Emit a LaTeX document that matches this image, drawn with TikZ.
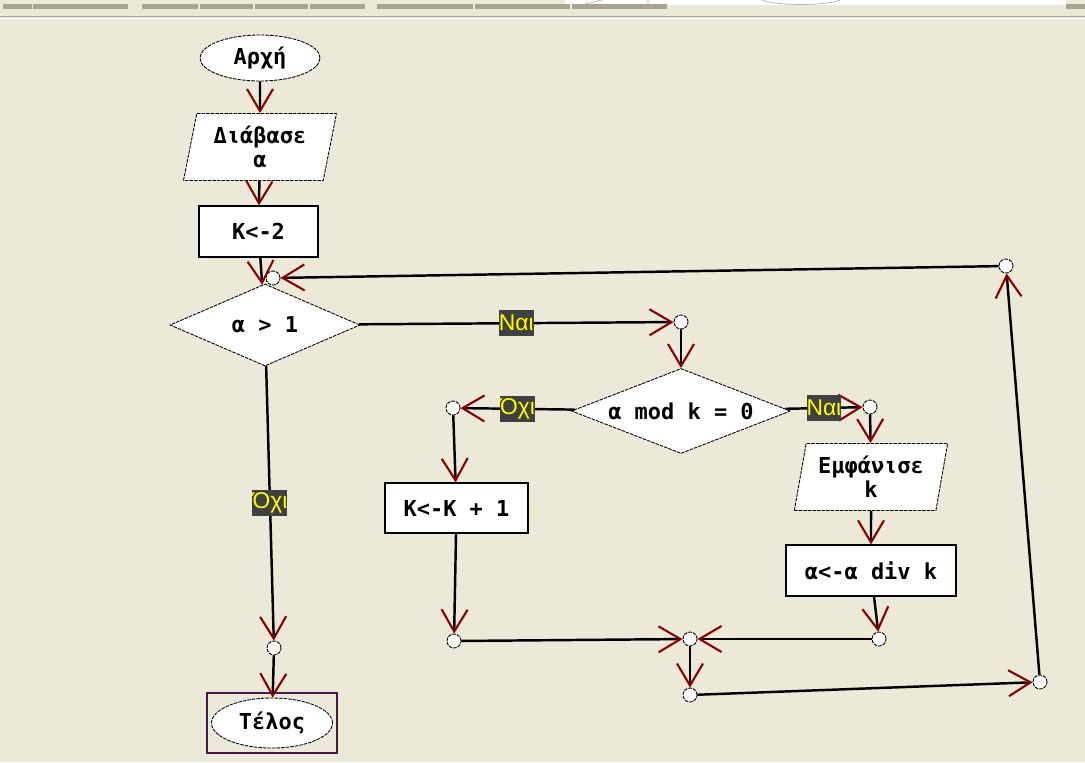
\documentclass[tikz,border=0pt]{standalone}
\usepackage{fontspec}
\setmonofont{DejaVu Sans Mono}
\newfontfamily\lblfont{Liberation Sans}
\usetikzlibrary{shapes.geometric,arrows.meta}
\definecolor{bgbeige}{HTML}{ECE9D8}
\definecolor{arrowred}{HTML}{8B0000}
\definecolor{lblgray}{HTML}{404040}
\definecolor{lblyellow}{HTML}{FFFF00}
\definecolor{selpurple}{HTML}{4A1848}
\definecolor{bargray}{HTML}{A7A494}
\definecolor{sepgray}{HTML}{ACA899}
\tikzset{
  shapeline/.style={draw=black, line width=0.5pt, dash pattern=on 2pt off 0.6pt, fill=white},
  txt/.style={font=\ttfamily\bfseries\fontsize{12.5}{13.7}\selectfont, align=center, inner sep=0pt},
  term/.style={ellipse, shapeline, txt},
  io/.style={trapezium, trapezium left angle=77, trapezium right angle=103, trapezium stretches=true,
    shapeline, txt, minimum width=3.08cm, minimum height=1.34cm},
  proc/.style={rectangle, draw=black, line width=0.7pt, fill=white, txt},
  cond/.style={diamond, shapeline, txt},
  jn/.style={circle, shapeline, minimum size=0.28cm, inner sep=0pt},
  lbl/.style={fill=lblgray, text=lblyellow, font=\lblfont\fontsize{13}{13}\selectfont,
    inner sep=0pt, minimum height=0.52cm},
  flow/.style={line width=1.4pt, -{Straight Barb[length=0.44cm, width=0.52cm, line width=1.2pt, color=arrowred]}},
}
\begin{document}
\begin{tikzpicture}[x=0.02cm, y=-0.02cm]
  \useasboundingbox (0,0) rectangle (1085,762);
  % window background and toolbar strip
  \fill[bgbeige] (0,0) rectangle (1085,762);
  \fill[white] (565,0) rectangle (1066,5);
  \draw[gray!60, thin] (581,5) -- (602,0) (648,0) -- (648,5)
    (762,0) .. controls (775,6) and (828,6) .. (840,0);
  \foreach \a/\b in {3/32,33/128,142/198,200/253,255/308,310/365,377/473,475/570,572/667,1066/1085}
    \fill[bargray] (\a,4) rectangle (\b,9);
  \draw[sepgray, line width=0.6pt] (0,16.5) -- (1085,16.5);
  \draw[white, line width=0.6pt] (0,18.5) -- (1085,18.5);

  % blocks
  \node[term, minimum width=2.4cm, minimum height=0.92cm] (start) at (260,58) {Αρχή};
  \node[io] (read) at (260,147) {Διάβασε\\α};
  \node[proc, minimum width=2.38cm, minimum height=1.02cm] (init) at (258.5,231.5) {K<-2};
  \node[cond, aspect=2.3, minimum width=3.8cm, minimum height=1.64cm] (test) at (265,325) {α > 1};
  \node[cond, aspect=2.6, minimum width=4.38cm, minimum height=1.7cm] (divides) at (681,411) {α mod k = 0};
  \node[proc, minimum width=2.86cm, minimum height=1cm] (inc) at (456.5,508) {K<-K + 1};
  \node[io] (show) at (871,477) {Εμφάνισε\\k};
  \node[proc, minimum width=3.4cm, minimum height=1.02cm] (reduce) at (871,570.5) {α<-α div k};
  \node[term, minimum width=2.42cm, minimum height=1cm] (stop) at (272,723) {Τέλος};
  \draw[selpurple, line width=1.2pt] (207,693) rectangle (337,753);

  % joints
  \foreach \n/\x/\y in {j1/273/278, c2/681/322, c3/453/408, c4/454/641, c5/870/407, c6/879/639,
                        c7/690/639, c8/690/695, c9/1040/682, c10/1006/266, c11/274/648}
    \node[jn] (\n) at (\x,\y) {};

  % connectors
  \foreach \a/\b in {start/read, read/init, init/test, c2/divides, c3/inc, inc/c4, c5/show,
                     show/reduce, reduce/c6, c4/c7, c6/c7, c7/c8, c8/c9, c9/c10, c10/j1, c11/stop}
    \draw[flow] (\a) -- (\b);
  \draw[flow] (test) -- node[lbl, minimum width=0.66cm] (yes1) {Ναι} (c2);
  \draw[flow] (test) -- node[lbl, minimum width=0.7cm] (no1) {Όχι} (c11);
  \draw[flow] (divides) -- node[lbl, minimum width=0.7cm] (no2) {Όχι} (c3);
  \draw[flow] (divides) -- node[lbl, minimum width=0.64cm] (yes2) {Ναι} (c5);
\end{tikzpicture}
\end{document}
